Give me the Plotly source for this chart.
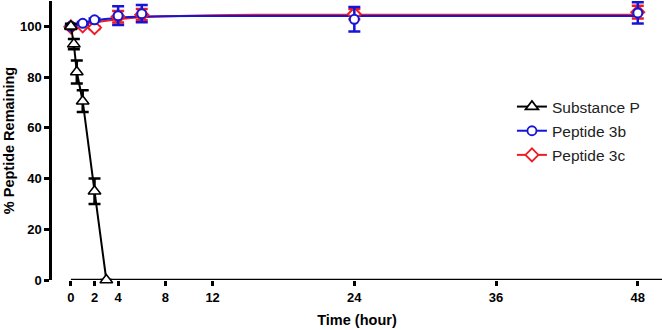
import plotly.graph_objects as go

# Substance P
sp_t = [0, 0.25, 0.5, 1, 2, 3]
sp_v = [100, 93, 82, 70.5, 35, 0]
sp_e = [1, 2, 4.5, 4.3, 5, 0]

# Peptide 3b
b_t = [0, 1, 2, 4, 6, 24, 48]
b_v = [100, 101.2, 102.6, 104.2, 105, 102.8, 105.3]
b_e = [0.5, 0.5, 0.5, 3.7, 3.4, 4.8, 4.2]

# Peptide 3c
c_t = [0, 1, 2, 4, 6, 24, 48]
c_v = [99.8, 100.2, 99.5, 103.8, 104.6, 104.8, 105.6]
c_e = [0.5, 0.5, 0.5, 2.3, 2.2, 2.0, 2.5]

# fitted curves
fit_t = [0, 1, 2, 4, 6, 12, 24, 48]
fit_b = [100, 101.3, 102.3, 103.4, 103.9, 104.1, 104.1, 104.1]
fit_c = [99.8, 100.8, 101.6, 102.8, 103.6, 104.4, 104.6, 104.6]

series_names = ["Substance P", "Peptide 3b", "Peptide 3c"]
x_ticks = [0, 2, 4, 8, 12, 24, 36, 48]
y_ticks = [0, 20, 40, 60, 80, 100]

RED = "#ee1c25"
BLUE = "#1515d8"

sym = {"Substance P": ("triangle-up", 11, "black"),
       "Peptide 3b": ("circle", 9, BLUE),
       "Peptide 3c": ("diamond", 10, RED)}

fig = go.Figure()
fig.add_trace(go.Scatter(x=fit_t, y=fit_c, mode="lines", line=dict(color=RED, width=2, shape="spline"),
                         showlegend=False, hoverinfo="skip"))
fig.add_trace(go.Scatter(x=fit_t, y=fit_b, mode="lines", line=dict(color=BLUE, width=2, shape="spline"),
                         showlegend=False, hoverinfo="skip"))
fig.add_trace(go.Scatter(x=c_t, y=c_v, mode="markers", showlegend=False,
                         marker=dict(symbol="diamond", size=10, color="white", line=dict(color=RED, width=2)),
                         error_y=dict(type="data", array=c_e, color=RED, thickness=2.5, width=6),
                         cliponaxis=False))
fig.add_trace(go.Scatter(x=b_t, y=b_v, mode="markers", showlegend=False,
                         marker=dict(symbol="circle", size=9, color="white", line=dict(color=BLUE, width=2)),
                         error_y=dict(type="data", array=b_e, color=BLUE, thickness=2.5, width=6),
                         cliponaxis=False))
fig.add_trace(go.Scatter(x=sp_t, y=sp_v, mode="lines+markers", showlegend=False,
                         line=dict(color="black", width=2),
                         marker=dict(symbol="triangle-up", size=11, color="white", line=dict(color="black", width=1.6)),
                         error_y=dict(type="data", array=sp_e, color="black", thickness=2.5, width=6),
                         cliponaxis=False))

# legend entries (no marks in the plot)
for i, nm in enumerate(series_names):
    s, sz, col = sym[nm]
    fig.add_trace(go.Scatter(x=[None], y=[None], mode="lines+markers", name=nm, legendgroup=nm,
                             legendrank=i + 1, line=dict(color=col, width=2),
                             marker=dict(symbol=s, size=sz, color="white", line=dict(color=col, width=1.8))))

XMIN, XMAX = -1.6, 50.05
fig.add_shape(type="line", xref="x", yref="y", x0=0, x1=XMAX, y0=0, y1=0,
              line=dict(color="black", width=2.5), layer="below")

fig.update_layout(
    width=662, height=330,
    margin=dict(l=52, r=0, t=1, b=50),
    paper_bgcolor="white", plot_bgcolor="white",
    font=dict(family="Liberation Sans, Arial", color="black"),
    showlegend=True,
    legend=dict(x=0.754, y=0.681, xanchor="left", yanchor="top", bgcolor="rgba(0,0,0,0)",
                font=dict(size=15.5, color="#222"), tracegroupgap=1, itemwidth=30),
    xaxis=dict(range=[XMIN, XMAX], showline=False, showgrid=False, zeroline=False,
               tickmode="array", tickvals=x_ticks, ticks="outside", ticklen=5, tickwidth=2.5,
               tickcolor="black", tickfont=dict(size=13, weight="bold"),
               title=dict(text="<b>Time (hour)</b>", font=dict(size=14.5), standoff=11)),
    yaxis=dict(range=[0, 110], showline=True, linewidth=2.5, linecolor="black", showgrid=False,
               zeroline=False, tickmode="array", tickvals=y_ticks, ticks="outside", ticklen=5,
               tickwidth=2.5, tickcolor="black", tickfont=dict(size=13, weight="bold"),
               title=dict(text="<b>% Peptide Remaining</b>", font=dict(size=14.5), standoff=2)),
)

fig.write_html("out.html", config={"displayModeBar": False},
               post_script="document.body.style.margin='0';")
